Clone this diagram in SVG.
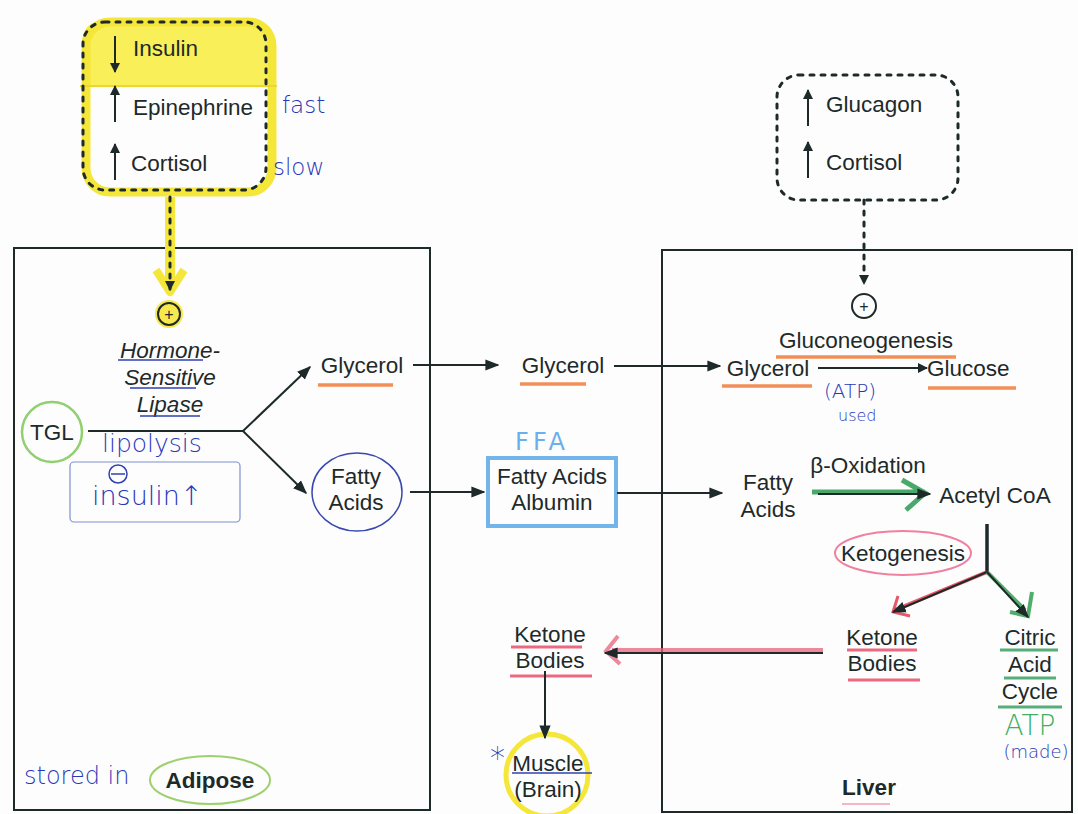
<svg xmlns="http://www.w3.org/2000/svg" width="1078" height="814" viewBox="0 0 1078 814">
<defs>
<style>
.t{font-family:"Liberation Sans",Arial,sans-serif;font-size:22.5px;fill:#1e2a2a}
.c{text-anchor:middle}
.b{font-weight:bold}
.i{font-style:italic}
.h{font-family:"DejaVu Sans","Liberation Sans",sans-serif;font-size:23px;fill:#2838b8;font-weight:300}
.box{fill:none;stroke:#1e2a2a;stroke-width:2}
.dash{fill:none;stroke:#1e2a2a;stroke-width:3;stroke-dasharray:4 7;stroke-linecap:round}
.ln{fill:none;stroke:#1e2a2a;stroke-width:2}
.org{stroke:#f07a3a;stroke-width:3.5;fill:none;opacity:.85}
.red{stroke:#e8506a;stroke-width:3;fill:none;opacity:.85}
.grn{stroke:#3aa060;stroke-width:3;fill:none;opacity:.85}
.blu{stroke:#3040b0;stroke-width:1.5;fill:none}
</style>
<marker id="ah" viewBox="0 0 10 10" refX="9" refY="5" markerWidth="10" markerHeight="12" orient="auto" markerUnits="userSpaceOnUse">
<path d="M0,0 L10,5 L0,10 z" fill="#1e2a2a"/>
</marker>
<marker id="ahs" viewBox="0 0 10 10" refX="9" refY="5" markerWidth="14" markerHeight="14" orient="auto" markerUnits="userSpaceOnUse">
<path d="M0,1 L10,5 L0,9 z" fill="#1e2a2a"/>
</marker>
</defs>
<rect width="1078" height="814" fill="#fdfdfd"/>

<g id="hormones-left">
<path d="M100,22 H255 Q275,22 275,45 V86 H82 V45 Q82,22 100,22 z" fill="#f8ec3c" opacity="0.85"/>
<rect x="86" y="22" width="186" height="170" rx="24" fill="none" stroke="#f5e63a" stroke-width="9"/>
<line x1="80" y1="86" x2="277" y2="86" stroke="#e8d830" stroke-width="2"/>
<rect x="83" y="22" width="183" height="168" rx="22" class="dash"/>
<line x1="115" y1="36" x2="115" y2="72" class="ln" stroke-width="2.5" marker-end="url(#ah)"/>
<line x1="115" y1="122" x2="115" y2="86" class="ln" stroke-width="2.5" marker-end="url(#ah)"/>
<line x1="115" y1="180" x2="115" y2="144" class="ln" stroke-width="2.5" marker-end="url(#ah)"/>
<text x="133" y="56" class="t">Insulin</text>
<text x="133" y="115" class="t">Epinephrine</text>
<text x="131" y="171" class="t">Cortisol</text>
<text x="282" y="113" class="h">fast</text>
<text x="273" y="175" class="h">slow</text>
</g>

<g id="hormones-right">
<rect x="777" y="75" width="181" height="125" rx="22" class="dash"/>
<line x1="808" y1="126" x2="808" y2="90" class="ln" stroke-width="2.5" marker-end="url(#ah)"/>
<line x1="808" y1="178" x2="808" y2="142" class="ln" stroke-width="2.5" marker-end="url(#ah)"/>
<text x="826" y="112" class="t">Glucagon</text>
<text x="826" y="170" class="t">Cortisol</text>
</g>

<g id="adipose">
<rect x="14" y="248" width="416" height="562" class="box"/>
<ellipse cx="210" cy="780" rx="60" ry="24" fill="none" stroke="#9fd070" stroke-width="2"/>
<text x="210" y="788" class="t b c">Adipose</text>
<text x="24" y="784" class="h" style="font-size:24px">stored in</text>
</g>

<g id="hsl">
<circle cx="169" cy="314" r="14" fill="#f5e63a" opacity="0.9"/>
<circle cx="169" cy="314" r="11" fill="none" stroke="#1e2a2a" stroke-width="2"/>
<text x="169" y="320" class="t c" style="font-size:16px">+</text>
<text x="170" y="358" class="t c i">Hormone-</text>
<text x="170" y="385" class="t c i">Sensitive</text>
<text x="170" y="412" class="t c i">Lipase</text>
<path d="M118,360 H203 M130,388 H196 M140,416 H200" class="blu"/>
</g>

<g id="tgl">
<circle cx="52" cy="432" r="30" fill="none" stroke="#90d070" stroke-width="2.5"/>
<text x="52" y="440" class="t c">TGL</text>
<text x="102" y="452" class="h" style="font-size:25px">lipolysis</text>
<circle cx="118" cy="474" r="9" fill="none" stroke="#3040b0" stroke-width="1.5"/>
<line x1="111" y1="474" x2="125" y2="474" stroke="#3040b0" stroke-width="1.5"/>
<text x="92" y="505" class="h" style="font-size:27px">insulin↑</text>
<rect x="70" y="462" width="170" height="60" rx="4" fill="none" stroke="#8090d0" stroke-width="1.2"/>
</g>

<g id="glycerol-1">
<text x="362" y="373" class="t c">Glycerol</text>
<path d="M318,385 H393" class="org"/>
</g>
<g id="fatty-acids-1">
<ellipse cx="357" cy="492" rx="45" ry="39" fill="none" stroke="#3848b0" stroke-width="1.5"/>
<text x="356" y="484" class="t c">Fatty</text>
<text x="356" y="510" class="t c">Acids</text>
</g>

<g id="glycerol-2">
<text x="563" y="373" class="t c">Glycerol</text>
<path d="M520,384 H586" class="org"/>
</g>

<g id="fa-albumin">
<rect x="488" y="458" width="128" height="68" fill="none" stroke="#5aa8e8" stroke-width="4" opacity="0.85"/>
<text x="552" y="484" class="t c">Fatty Acids</text>
<text x="552" y="510" class="t c">Albumin</text>
<text x="542" y="450" style="font-family:'DejaVu Sans',sans-serif;font-size:24px;fill:#6ab0ee;letter-spacing:4px" text-anchor="middle">FFA</text>
</g>

<g id="ketone-2">
<text x="550" y="642" class="t c">Ketone</text>
<text x="550" y="668" class="t c">Bodies</text>
<path d="M511,647 H582 M510,676 H592" class="red"/>
</g>

<g id="muscle">
<circle cx="547" cy="775" r="41" fill="none" stroke="#f5e63a" stroke-width="5"/>
<text x="548" y="771" class="t c">Muscle</text>
<text x="548" y="797" class="t c">(Brain)</text>
<path d="M512,773 H592" class="blu"/>
<text x="490" y="768" class="h" style="font-size:30px">*</text>
</g>

<g id="liver">
<rect x="662" y="250" width="410" height="562" class="box"/>
<text x="869" y="795" class="t b c">Liver</text>
<path d="M842,804 H890" stroke="#f0a0b0" stroke-width="1.5"/>
</g>

<g id="gng">
<circle cx="864" cy="306" r="12" fill="none" stroke="#1e2a2a" stroke-width="2"/>
<text x="864" y="312" class="t c" style="font-size:16px">+</text>
<text x="866" y="348" class="t c">Gluconeogenesis</text>
<path d="M776,357 H956" class="org"/>
</g>

<g id="glycerol-3">
<text x="768" y="376" class="t c">Glycerol</text>
<path d="M722,386 H812" class="org"/>
</g>
<g id="glucose">
<text x="927" y="376" class="t">Glucose</text>
<path d="M928,388 H1016" class="org"/>
</g>
<text x="824" y="398" class="h" style="font-size:20px">(ATP)</text>
<text x="838" y="421" class="h" style="font-size:16px">used</text>

<g id="fatty-acids-3">
<text x="768" y="490" class="t c">Fatty</text>
<text x="768" y="517" class="t c">Acids</text>
</g>
<text x="868" y="473" class="t c">β-Oxidation</text>
<g id="acetyl">
<text x="995" y="503" class="t c">Acetyl CoA</text>
</g>

<g id="ketogenesis">
<ellipse cx="903" cy="553" rx="68" ry="22" fill="none" stroke="#f080a0" stroke-width="2"/>
<text x="903" y="561" class="t c">Ketogenesis</text>
</g>

<g id="ketone-3">
<text x="882" y="645" class="t c">Ketone</text>
<text x="882" y="671" class="t c">Bodies</text>
<path d="M847,650 H917 M848,680 H920" class="red"/>
</g>

<g id="tca">
<text x="1030" y="645" class="t c">Citric</text>
<text x="1030" y="672" class="t c">Acid</text>
<text x="1030" y="699" class="t c">Cycle</text>
<path d="M1000,650 H1058 M1004,678 H1056 M998,707 H1062" class="grn"/>
<text x="1030" y="735" text-anchor="middle" style="font-family:'DejaVu Sans',sans-serif;font-size:28px;fill:#40b060;font-weight:300">ATP</text>
<text x="1036" y="758" class="h c" style="font-size:18px">(made)</text>
</g>

<g id="connectors">
<path d="M170,197 V288" stroke="#f5e63a" stroke-width="10" fill="none"/>
<path d="M156,270 L170,292 L184,270" stroke="#f5e63a" stroke-width="8" fill="none" stroke-linejoin="round"/>
<line x1="170" y1="197" x2="170" y2="290" class="dash" stroke-width="2.5" marker-end="url(#ah)"/>
<line x1="864" y1="200" x2="864" y2="284" class="dash" stroke-width="2.5" marker-end="url(#ah)"/>
<path d="M88,431 H243" class="ln"/>
<line x1="243" y1="431" x2="310" y2="367" class="ln" stroke-width="2.5" marker-end="url(#ahs)"/>
<line x1="243" y1="431" x2="306" y2="493" class="ln" stroke-width="2.5" marker-end="url(#ahs)"/>
<line x1="413" y1="365" x2="498" y2="365" class="ln" marker-end="url(#ahs)"/>
<line x1="614" y1="366" x2="720" y2="366" class="ln" marker-end="url(#ahs)"/>
<line x1="410" y1="492" x2="484" y2="492" class="ln" marker-end="url(#ahs)"/>
<line x1="617" y1="493" x2="722" y2="493" class="ln" marker-end="url(#ahs)"/>
<line x1="818" y1="368" x2="927" y2="368" class="ln" marker-end="url(#ah)"/>
<path d="M812,492 H925 M902,480 L925,493 L906,510" stroke="#2a9a50" stroke-width="5" fill="none" opacity="0.85"/>
<line x1="818" y1="494" x2="930" y2="494" class="ln" marker-end="url(#ahs)"/>
<path d="M987,524 V572" stroke="#1e2a2a" stroke-width="3.5" fill="none"/>
<path d="M987,572 L895,610" stroke="#e03040" stroke-width="4" fill="none" opacity="0.8"/>
<path d="M898,596 L893,612 L910,616" stroke="#e03040" stroke-width="3" fill="none" opacity="0.8"/>
<line x1="987" y1="572" x2="893" y2="612" class="ln" stroke-width="2.5" marker-end="url(#ahs)"/>
<path d="M987,572 L1025,610 M1032,592 L1028,616 L1010,612" stroke="#30a050" stroke-width="4" fill="none" opacity="0.85"/>
<line x1="987" y1="572" x2="1028" y2="617" class="ln" stroke-width="2.5" marker-end="url(#ahs)"/>
<path d="M823,650 H612 M618,636 L606,651 L620,664" stroke="#e8607a" stroke-width="4" fill="none" opacity="0.75"/>
<line x1="823" y1="653" x2="605" y2="653" class="ln" stroke-width="2.5" marker-end="url(#ahs)"/>
<line x1="545" y1="671" x2="545" y2="738" class="ln" marker-end="url(#ahs)"/>
</g>
</svg>
